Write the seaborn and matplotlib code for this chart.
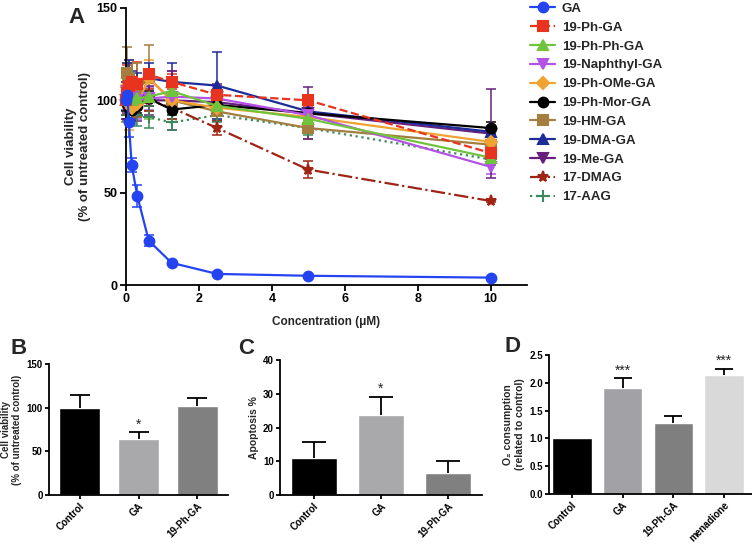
import numpy as np
import pandas as pd
import matplotlib
matplotlib.use("Agg")
import matplotlib.pyplot as plt
import seaborn as sns

# dados do painel A (viabilidade x concentracao)
conc = [0, 0.039, 0.078, 0.156, 0.3125, 0.625, 1.25, 2.5, 5, 10]

series_names = ["GA", "19-Ph-GA", "19-Ph-Ph-GA", "19-Naphthyl-GA", "19-Ph-OMe-GA",
                "19-Ph-Mor-GA", "19-HM-GA", "19-DMA-GA", "19-Me-GA", "17-DMAG", "17-AAG"]

ga = [100, 103, 88, 65, 48, 24, 12, 6, 5, 4]
ph_ga = [100, 104, 108, 110, 109, 114, 110, 103, 100, 71.5]
phph_ga = [100, 103, 104, 100, 101, 102, 105, 97, 90, 69]
naph_ga = [100, 105, 103, 102, 100, 101, 102, 101, 92, 64]
phome_ga = [100, 108, 98, 96, 98, 112, 100, 96, 91, 77.5]
phmor_ga = [100, 98, 96, 95, 97, 101, 95, 97.5, 93, 85]
hm_ga = [100, 115, 112, 108, 106, 112, 100, 94, 85, 76]
dma_ga = [100, 110, 112, 108, 107, 112, 110, 108, 94, 83]
me_ga = [100, 105, 102, 100, 99, 100, 100, 99, 93, 82]
dmag = [100, 102, 100, 98, 97, 100, 96, 85, 62.5, 45.5]
aag = [100, 99, 96, 93, 92, 91, 88, 92, 85, 68]

ga_err = [5, 8, 8, 4, 6, 3, 1, 1, 0.5, 0.5]
ph_ga_err = [8, 15, 12, 10, 12, 3, 4, 5, 3, 4]
phph_ga_err = [10, 8, 10, 8, 6, 12, 6, 5, 6, 4]
naph_ga_err = [8, 10, 10, 8, 10, 6, 14, 7, 6, 4]
phome_ga_err = [10, 12, 14, 8, 6, 10, 8, 6, 5, 4]
phmor_ga_err = [6, 8, 6, 6, 4, 4, 3, 4, 3, 3]
hm_ga_err = [12, 14, 10, 12, 14, 18, 10, 8, 6, 4]
dma_ga_err = [8, 10, 10, 8, 8, 8, 10, 18, 8, 3]
me_ga_err = [10, 12, 10, 10, 10, 8, 16, 10, 14, 24]
dmag_err = [8, 10, 8, 6, 6, 6, 6, 4, 4.5, 0.5]
aag_err = [8, 10, 8, 6, 6, 6, 4, 4, 4, 3]

# dados dos paineis B, C, D
b_labels = ["Control", "GA", "19-Ph-GA"]
b_vals = [100, 64, 102]
b_err = [14, 8.5, 8.5]

c_labels = ["Control", "GA", "19-Ph-GA"]
c_vals = [11, 23.6, 6.6]
c_err = [4.7, 5.4, 3.5]

d_labels = ["Control", "GA", "19-Ph-GA", "menadione"]
d_vals = [1.0, 1.91, 1.27, 2.14]
d_err = [0.0, 0.18, 0.13, 0.11]

sns.set_style("ticks")
plt.rcParams["font.family"] = ["Liberation Sans", "DejaVu Sans"]
plt.rcParams["font.weight"] = "bold"
plt.rcParams["axes.labelweight"] = "bold"
plt.rcParams["axes.linewidth"] = 1.3
plt.rcParams["xtick.major.width"] = 1.3
plt.rcParams["ytick.major.width"] = 1.3
plt.rcParams["xtick.color"] = "black"
plt.rcParams["ytick.color"] = "black"
plt.rcParams["axes.edgecolor"] = "black"

W, H = 752, 546
fig = plt.figure(figsize=(W / 100, H / 100), dpi=100)


def box(l, r, t, b):
    return [l / W, 1 - b / H, (r - l) / W, (b - t) / H]


# ---------------- painel A
ax = fig.add_axes(box(126, 527, 8, 285))
values = [ga, ph_ga, phph_ga, naph_ga, phome_ga, phmor_ga, hm_ga, dma_ga, me_ga, dmag, aag]
errors = [ga_err, ph_ga_err, phph_ga_err, naph_ga_err, phome_ga_err, phmor_ga_err,
          hm_ga_err, dma_ga_err, me_ga_err, dmag_err, aag_err]
colors = ["#2444f2", "#e8341e", "#70c43c", "#b452e6", "#f0a232", "#000000",
          "#a47e3e", "#1e2c9a", "#66207c", "#a02414", "#3c8a5c"]
markers = ["o", "s", "^", "v", "D", "o", "s", "^", "v", "*", "+"]
msizes = [7, 7, 7, 7, 6, 7, 7, 7, 7, 8, 8]
styles = ["-", "--", "-", "-", "-", "-", "-", "-", "-", "-.", ":"]

# desenha do ultimo ao primeiro para GA ficar por cima
order = list(range(len(series_names)))[::-1]
for i in order:
    df = pd.DataFrame({"conc": conc, "val": values[i]})
    ax.errorbar(conc, values[i], yerr=errors[i], fmt="none", ecolor=colors[i],
                elinewidth=1.1, capsize=3.5, capthick=1.1, clip_on=False, zorder=2 + i * 0.01)
    sns.lineplot(data=df, x="conc", y="val", ax=ax, color=colors[i], marker=markers[i],
                 markersize=msizes[i], markeredgecolor=colors[i], markeredgewidth=1.5,
                 linestyle=styles[i], linewidth=1.6, label=series_names[i], clip_on=False,
                 zorder=3 + (len(series_names) - i) * 0.01)

ax.set_xlim(0, 11)
ax.set_ylim(0, 150)
ax.set_xticks([0, 2, 4, 6, 8, 10])
ax.set_yticks([0, 50, 100, 150])
ax.tick_params(labelsize=9, length=4, pad=2)
for t in ax.get_xticklabels() + ax.get_yticklabels():
    t.set_fontweight("bold")
ax.set_xlabel("Concentration (\u03bcM)", fontsize=8.5, labelpad=8)
ax.set_ylabel("Cell viability\n(% of untreated control)", fontsize=9.5, labelpad=4)
sns.despine(ax=ax)

h, l = ax.get_legend_handles_labels()
lut = dict(zip(l, h))
ax.legend([lut[n] for n in series_names], series_names, loc="upper left",
          bbox_to_anchor=(530 / W, 0.995), bbox_transform=fig.transFigure, frameon=False,
          prop={"size": 9.5, "weight": "bold"}, labelspacing=0.5, handlelength=1.9,
          handletextpad=0.5, borderpad=0, borderaxespad=0)

fig.text(68 / W, 1 - 23 / H, "A", fontsize=16, fontweight="bold")


# ---------------- paineis de barras
def bar_panel(rect, labels, vals, errs, cols, width, xlim, ylim, yticks, ylabel,
              ylab_size, cap, stars, fmt=None):
    a = fig.add_axes(rect)
    sns.barplot(x=labels, y=vals, hue=labels, palette=cols, legend=False, width=width,
                saturation=1, errorbar=None, ax=a, zorder=2)
    # so a barra de erro superior, e so onde existe erro
    pos = [k for k, e in enumerate(errs) if e > 0]
    yv = [vals[k] for k in pos]
    ye = [errs[k] for k in pos]
    cont = a.errorbar(pos, yv, yerr=[np.zeros(len(yv)), ye], fmt="none",
                      ecolor="black", elinewidth=1.3, capsize=cap, capthick=1.3, zorder=3)
    cont[1][0].set_visible(False)
    for k, s in stars.items():
        a.text(k, s[0], s[1], ha="center", va="center", fontsize=10, fontweight="normal")
    a.set_xlim(*xlim)
    a.set_ylim(*ylim)
    a.set_yticks(yticks)
    if fmt:
        a.set_yticklabels([fmt % v for v in yticks])
    a.tick_params(axis="y", labelsize=7, length=3, pad=1.5)
    a.tick_params(axis="x", labelsize=7, length=3, pad=1.5)
    for t in a.get_xticklabels():
        t.set_rotation(45)
        t.set_ha("right")
        t.set_rotation_mode("anchor")
        t.set_fontweight("bold")
    for t in a.get_yticklabels():
        t.set_fontweight("bold")
    a.set_ylabel(ylabel, fontsize=ylab_size, labelpad=3)
    a.set_xlabel("")
    sns.despine(ax=a)
    return a


bar_panel(box(49, 228, 364, 495), b_labels, b_vals, b_err,
          ["#000000", "#a9a9ab", "#808080"], 0.7, (-0.52, 2.52), (0, 150),
          [0, 50, 100, 150], "Cell viability\n(% of untreated control)", 7, 7,
          {1: (80, "*")})
fig.text(10 / W, 1 - 354 / H, "B", fontsize=16, fontweight="bold")

bar_panel(box(280, 482, 360, 495), c_labels, c_vals, c_err,
          ["#000000", "#a9a9ab", "#808080"], 0.68, (-0.5, 2.5), (0, 40),
          [0, 10, 20, 30, 40], "Apoptosis %", 7.5, 8.5,
          {1: (31.5, "*")})
fig.text(238 / W, 1 - 354 / H, "C", fontsize=16, fontweight="bold")

bar_panel(box(549, 752, 355, 494), d_labels, d_vals, d_err,
          ["#000000", "#a2a2a6", "#7f7f7f", "#d9d9d9"], 0.78, (-0.45, 3.55), (0, 2.5),
          [0, 0.5, 1.0, 1.5, 2.0, 2.5], "O\u2082 consumption\n(related to control)", 7.5, 6.5,
          {1: (2.22, "***"), 3: (2.40, "***")}, fmt="%.1f")
fig.text(505 / W, 1 - 352 / H, "D", fontsize=16, fontweight="bold")

fig.savefig("out.png", dpi=100)
